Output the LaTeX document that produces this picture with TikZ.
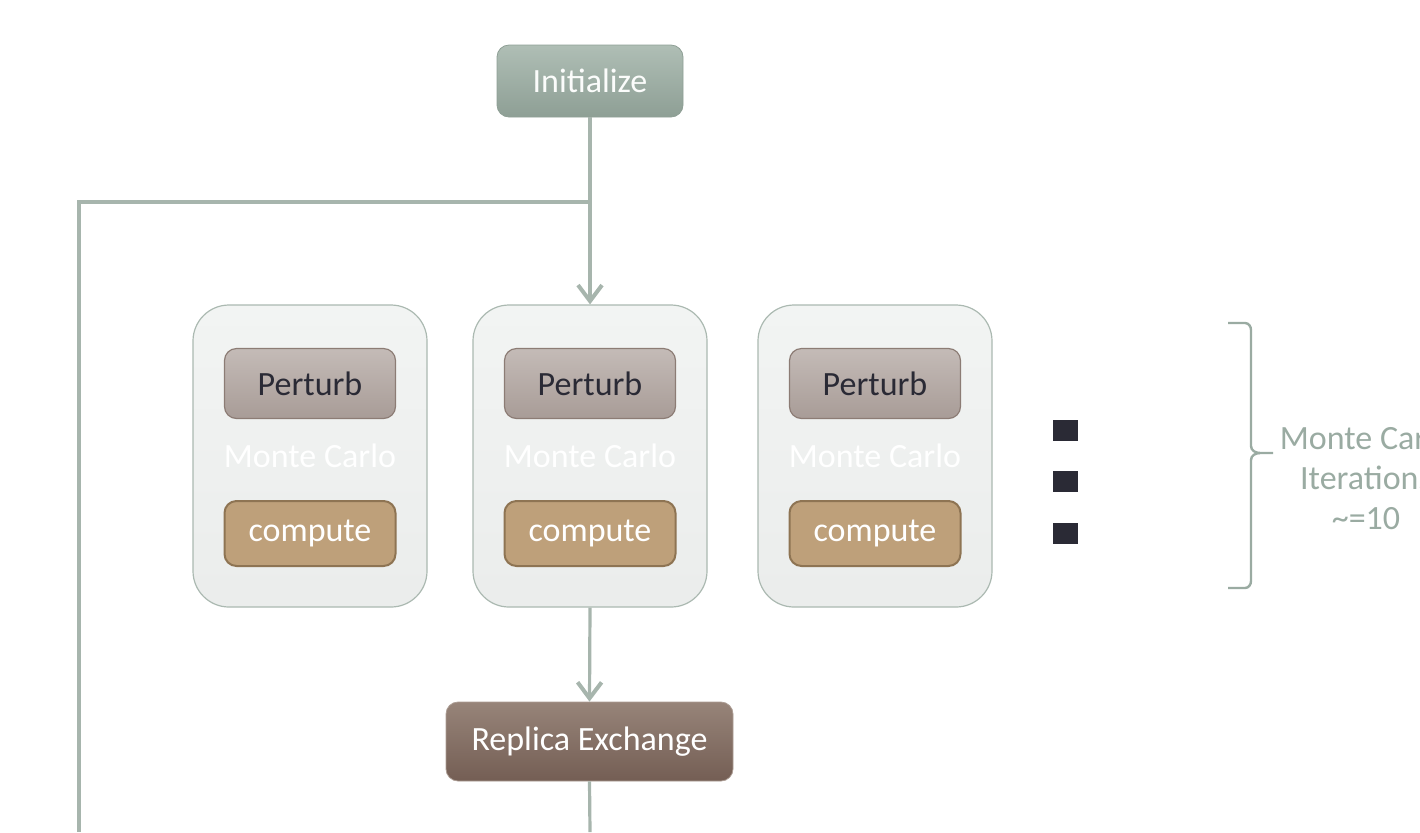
\documentclass[tikz,border=0pt]{standalone}
\usepackage{fontspec}
\setmainfont{Carlito}
\usepackage{tikz}
\usetikzlibrary{arrows.meta}
\usepackage{xcolor}
\definecolor{linkgray}{HTML}{A7B5AD}
\definecolor{inittop}{HTML}{AFBEB5}
\definecolor{initbot}{HTML}{8E9F95}
\definecolor{mcfill}{HTML}{F2F4F3}
\definecolor{mcedge}{HTML}{ABB9B1}
\definecolor{perttop}{HTML}{C4BBB7}
\definecolor{pertbot}{HTML}{A89C97}
\definecolor{pertedge}{HTML}{8C7C75}
\definecolor{darkink}{HTML}{2A2A35}
\definecolor{compfill}{HTML}{BEA07A}
\definecolor{compedge}{HTML}{8E7453}
\definecolor{reptop}{HTML}{978479}
\definecolor{repbot}{HTML}{745E54}
\definecolor{notegray}{HTML}{9AABA2}

\begin{document}
\begin{tikzpicture}[x=0.5pt, y=-0.5pt,
    every node/.style={font=\fontsize{17}{20}\selectfont, inner sep=0pt},
    link/.style={linkgray, line width=1.6pt},
    tip/.style={-{Straight Barb[length=8pt, width=12pt, line width=2pt]}},
    initbox/.style={rounded corners=6pt, draw=initbot, top color=inittop, bottom color=initbot,
      text=white!95!inittop, minimum width=93pt, minimum height=36pt},
    mcbox/.style={rounded corners=18pt, draw=mcedge, line width=0.6pt, top color=mcfill,
      bottom color=mcfill!97!black, text=white, minimum width=117pt, minimum height=151pt},
    perturbbox/.style={rounded corners=6pt, draw=pertedge, line width=0.6pt, top color=perttop,
      bottom color=pertbot, text=darkink, minimum width=85.5pt, minimum height=35pt},
    computebox/.style={rounded corners=6pt, draw=compedge, line width=1pt, fill=compfill,
      text=white, minimum width=85.5pt, minimum height=32.5pt},
    replicabox/.style={rounded corners=6pt, draw=reptop!80!white, top color=reptop, bottom color=repbot,
      text=white, minimum width=143.5pt, minimum height=39.5pt}]
  \useasboundingbox (0,0) rectangle (1420,832);
  \clip (0,0) rectangle (1420,832);
  % start
  \node[initbox] (init) at (590,81) {Initialize};
  % replicas
  \foreach \i/\x in {1/310,2/590,3/875} {
    \node[mcbox] (mc\i) at (\x,456) {Monte Carlo};
    \node[perturbbox] (pert\i) at (\x,383.5) {Perturb};
    \node[computebox] (comp\i) at (\x,533.5) {compute};
  }
  \foreach \y in {430,481.5,533}
    \fill[darkink] (1053,\y-10.5) rectangle (1078,\y+10.5);
  % exchange
  \node[replicabox] (replica) at (589.5,741.5) {Replica Exchange};
  % connectors
  \coordinate (split) at (590,202);
  \coordinate (loopend) at (79,832);
  \coordinate (bottom) at (590,832);
  \draw[link, tip] (init.south) -- (mc2.north);
  \draw[link] (split) -| (loopend);
  \draw[link, tip] (mc2.south) -- (replica.north);
  \draw[link] (replica.south) -- (bottom);
  % brace and note
  \draw[notegray, line width=1.2pt] (1228,323) -- (1245,323) to[out=0, in=90] (1251,330)
    -- (1251,446) to[out=-90, in=180] (1260,453) -- (1273,453);
  \draw[notegray, line width=1.2pt] (1260,453) to[out=180, in=90] (1251,460)
    -- (1251,581) to[out=-90, in=0] (1245,588) -- (1228,588);
  \node[notegray, align=center] (note) at (1366,478) {Monte Carlo\\Iterations\\\textasciitilde=10};
\end{tikzpicture}
\end{document}
